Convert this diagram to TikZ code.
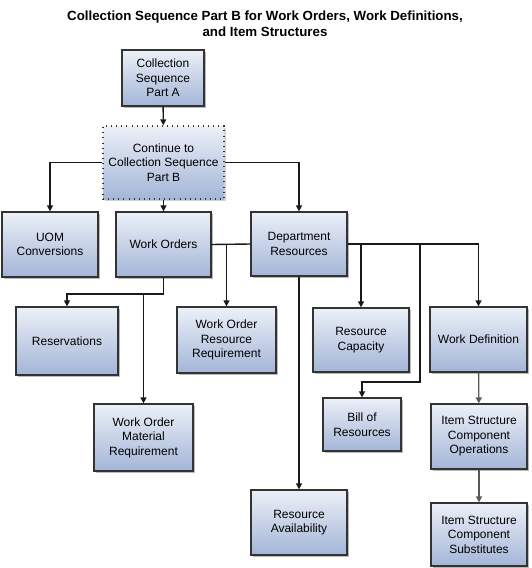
\documentclass[tikz,border=0pt]{standalone}
\usepackage{fontspec}
\setmainfont{Liberation Sans}
\usetikzlibrary{arrows.meta,shadows,calc}
\definecolor{boxtop}{HTML}{ECF0F8}
\definecolor{boxbot}{HTML}{A3B5D7}
\definecolor{edge}{HTML}{333333}
\definecolor{shad}{HTML}{A8A8A8}
\tikzset{
  box/.style={draw=edge, line width=1.3pt, top color=boxtop, bottom color=boxbot,
    inner sep=0pt, align=center, font=\fontsize{12}{14.5}\selectfont,
    drop shadow={shadow xshift=2.2pt, shadow yshift=-2.2pt, fill=shad, opacity=0.8}},
  dotbox/.style={draw=edge, line width=1.4pt, dash pattern=on 0.9pt off 4.2pt,
    top color=boxtop, bottom color=boxbot,
    inner sep=0pt, align=center, font=\fontsize{12}{14.5}\selectfont,
    drop shadow={shadow xshift=2.2pt, shadow yshift=-2.2pt, fill=shad, opacity=0.5}},
  arr/.style={draw=black!90, line width=1.4pt, -{Triangle[length=6pt,width=6pt]}},
  conn/.style={draw=black!90, line width=1.4pt},
  garr/.style={draw=black!65, line width=1.4pt, -{Triangle[length=6pt,width=6pt]}},
}
\begin{document}
\begin{tikzpicture}[x=1pt,y=-1pt]
\useasboundingbox (0,0) rectangle (531,568);
\node[font=\bfseries\fontsize{13.3}{16.3}\selectfont, align=center] (title) at (265,23.5)
  {Collection Sequence Part B for Work Orders, Work Definitions,\\and Item Structures};
\node[box, minimum width=82pt, minimum height=56pt] (A) at (163,78) {Collection\\Sequence\\Part A};
\node[dotbox, minimum width=121pt, minimum height=73pt] (C) at (163.5,162.5) {Continue to\\Collection Sequence\\Part B};
\node[box, minimum width=96pt, minimum height=65pt] (UOM) at (50,244.5) {UOM\\Conversions};
\node[box, minimum width=95pt, minimum height=65pt] (WO) at (163.5,244.5) {Work Orders};
\node[box, minimum width=96pt, minimum height=64pt] (DR) at (299,244) {Department\\Resources};
\node[box, minimum width=102pt, minimum height=68pt] (RES) at (67,341) {Reservations};
\node[box, minimum width=99pt, minimum height=66pt] (WORR) at (226.5,340) {Work Order\\Resource\\Requirement};
\node[box, minimum width=96pt, minimum height=64pt] (RC) at (361,340) {Resource\\Capacity};
\node[box, minimum width=97pt, minimum height=65pt] (WD) at (478.5,339.5) {Work Definition};
\node[box, minimum width=99pt, minimum height=67pt] (WOMR) at (143.5,437.5) {Work Order\\Material\\Requirement};
\node[box, minimum width=78pt, minimum height=53pt] (BOR) at (362,424.5) {Bill of\\Resources};
\node[box, minimum width=96pt, minimum height=65pt] (RA) at (299,522.5) {Resource\\Availability};
\node[box, minimum width=96pt, minimum height=65pt] (ISCO) at (479,436.5) {Item Structure\\Component\\Operations};
\node[box, minimum width=96pt, minimum height=63pt] (ISCS) at (479,534.5) {Item Structure\\Component\\Substitutes};
% connectors
\draw[arr] (A) -- (C);
\draw[arr] (C.west) -| (UOM.north);
\draw[arr] (C.east) -| (DR.north);
\draw[arr] (C) -- (WO);
\coordinate (wj) at (163.5,294);
\draw[arr] (WO.south) -- (wj) -| (RES.north);
\draw[arr] (WOMR.north |- wj) -- (WOMR.north);
\draw[conn] (WO.east) -- (DR.west);
\draw[arr] (WORR.north |- WO.east) -- (WORR.north);
\draw[arr] (DR.east) -| (WD.north);
\draw[arr] (RC.north |- DR.east) -- (RC.north);
\coordinate (bt) at (420,244);
\coordinate (bb) at (420,382);
\draw[arr] (bt) -- (bb) -| (BOR.north);
\draw[arr] (DR) -- (RA);
\draw[garr] (WD) -- (ISCO);
\draw[garr] (ISCO) -- (ISCS);
\end{tikzpicture}
\end{document}
